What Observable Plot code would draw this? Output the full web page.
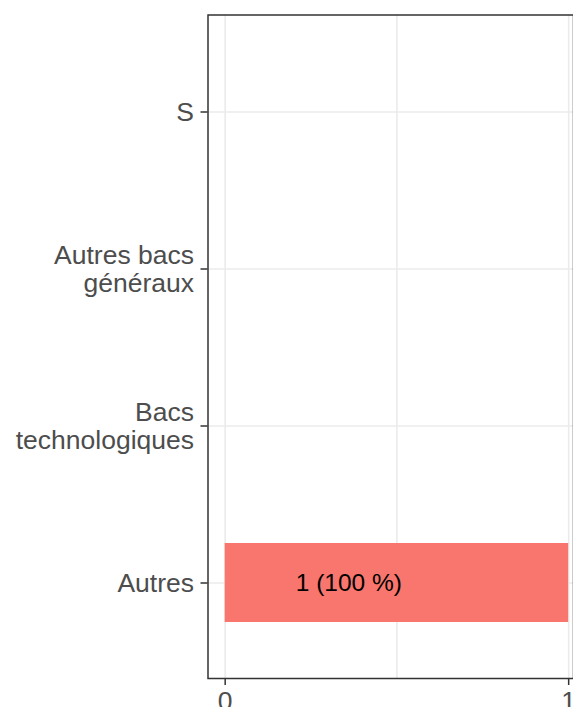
<!DOCTYPE html>
<html>
<head>
<meta charset="utf-8">
<script src="https://cdn.jsdelivr.net/npm/d3@7"></script>
<script src="https://cdn.jsdelivr.net/npm/@observablehq/plot@0.6"></script>
<style>
  html, body { margin: 0; padding: 0; background: #fff; overflow: hidden; }
  svg { display: block; }
</style>
</head>
<body>
<div id="chart"></div>
<script>
const categories = ["S", "Autres bacs généraux", "Bacs technologiques", "Autres"];
const yTickLabels = ["S", "Autres bacs\ngénéraux", "Bacs\ntechnologiques", "Autres"];
const counts = [0, 0, 0, 1];
const barLabels = ["", "", "", "1 (100 %)"];
const xTicks = [0, 1];
const xGrid = [0, 0.5, 1];

const data = categories.map((c, i) => ({cat: c, n: counts[i], label: barLabels[i], tick: yTickLabels[i]}));
const total = d3.sum(counts);

const W = 573, H = 707;
const panelLeft = 207.5, panelTop = 14.5, panelBottom = 678;
const unit = 343.5; // px per 1 count
const xRange = [panelLeft, panelLeft + unit * 1.1];

const chart = Plot.plot({
  width: W,
  height: H,
  marginLeft: panelLeft,
  marginTop: panelTop,
  marginBottom: H - panelBottom,
  marginRight: 0,
  style: {fontFamily: "'Liberation Sans', Arial, sans-serif", background: "#fff", overflow: "hidden"},
  x: {domain: [-0.05 * total, 1.05 * total], range: xRange},
  y: {type: "band", domain: categories, paddingInner: 0.5, paddingOuter: 0.35, range: [panelTop, panelBottom]},
  marks: [
    Plot.ruleX(xGrid, {stroke: "#ebebeb", strokeWidth: 1.6}),
    Plot.ruleY(categories, {y: d => d, x1: -0.05 * total, x2: 1.05 * total, stroke: "#ebebeb", strokeWidth: 1.6}),
    Plot.barX(data.filter(d => d.n > 0), {y: "cat", x1: 0, x2: "n", fill: "#F8766D"}),
    Plot.text(data.filter(d => d.n > 0), {y: "cat", x: d => d.n * 0.36, text: "label", fill: "#000", fontSize: 24.5}),
    Plot.frame({stroke: "#333333", strokeWidth: 1.5}),
    Plot.axisY({tickSize: 7, tickFormat: () => "", stroke: "#333333", strokeWidth: 1.5, label: null}),
    Plot.text(data, {y: "cat", text: "tick", fontSize: 26.5, fill: "#4d4d4d", frameAnchor: "left", textAnchor: "end", dx: -14, lineHeight: 1.057, lineAnchor: "middle"}),
    Plot.axisX(xTicks, {tickSize: 7, tickPadding: 6, tickFormat: d => String(d), fontSize: 26.5, color: "#4d4d4d", stroke: "#333333", strokeWidth: 1.5, label: null})
  ]
});
chart.querySelectorAll("g[aria-label='x-axis tick label'] text").forEach(t => t.setAttribute("fill", "#4d4d4d"));
document.getElementById("chart").appendChild(chart);
</script>
</body>
</html>
